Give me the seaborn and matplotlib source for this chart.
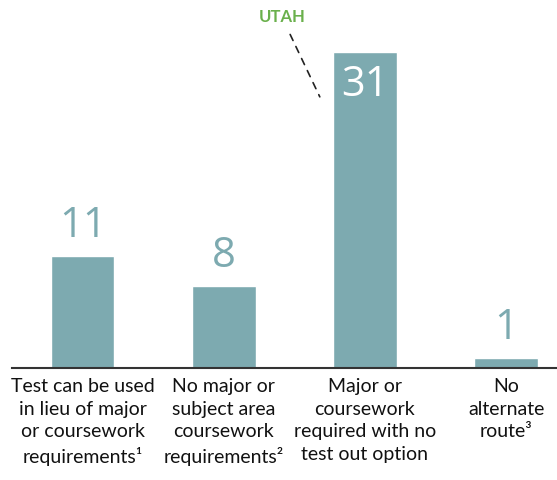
import matplotlib
matplotlib.use("Agg")
import matplotlib.pyplot as plt
import seaborn as sns
import pandas as pd

categories = [
    "Test can be used\nin lieu of major\nor coursework\nrequirements\u00b9",
    "No major or\nsubject area\ncoursework\nrequirements\u00b2",
    "Major or\ncoursework\nrequired with no\ntest out option",
    "No\nalternate\nroute\u00b3",
]
counts = [11, 8, 31, 1]

bar_color = "#7daab0"
utah_green = "#6ab04c"

sns.set_style("white")
plt.rcParams["font.family"] = ["Lato", "DejaVu Sans"]

df = pd.DataFrame({"category": categories, "count": counts})

fig = plt.figure(figsize=(5.57, 4.80), dpi=100)
ax = fig.add_axes([12 / 557, 112 / 480, 545 / 557, 368 / 480])

sns.barplot(data=df, x="category", y="count", color=bar_color, width=0.45,
            saturation=1, ax=ax)

ax.set_xlim(-0.5, 3.36)
ax.set_ylim(0, 36.1)
ax.set_xlabel("")
ax.set_ylabel("")
ax.set_yticks([])
ax.tick_params(axis="x", length=0, pad=7, labelsize=14)
for lbl in ax.get_xticklabels():
    lbl.set_linespacing(1.42)
    lbl.set_color("#111111")

for s in ["top", "right", "left"]:
    ax.spines[s].set_visible(False)
ax.spines["bottom"].set_color("#333333")
ax.spines["bottom"].set_linewidth(1.5)

num_font = ["Open Sans", "DejaVu Sans"]
for i, v in enumerate(counts):
    if v == max(counts):
        ax.text(i, v - 1.2, str(v), ha="center", va="top", fontsize=30,
                color="white", family=num_font)
    else:
        ax.text(i, v + 0.9, str(v), ha="center", va="bottom", fontsize=30,
                color=bar_color, family=num_font)

# Utah callout
ax.annotate("UTAH", xy=(1.68, 26.6), xytext=(1.411, 33.95),
            ha="center", va="baseline", fontsize=12, fontweight="bold",
            color=utah_green,
            arrowprops=dict(arrowstyle="-", linestyle=(0, (4, 4)),
                            color="#222222", lw=1.2, shrinkA=5, shrinkB=0))

fig.savefig("out.png", dpi=100)
